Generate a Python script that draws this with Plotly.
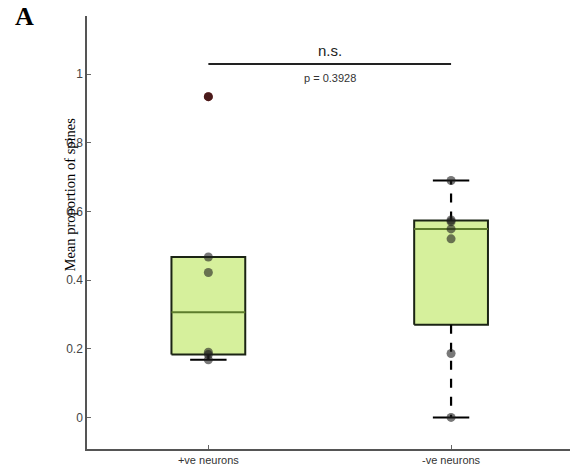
import numpy as np
import plotly.graph_objects as go

categories = ["+ve neurons", "-ve neurons"]
pos_values = [0.168, 0.183, 0.190, 0.422, 0.467, 0.934]
neg_values = [0.0, 0.186, 0.520, 0.549, 0.570, 0.575, 0.690]
series = [pos_values, neg_values]
y_ticks = [0, 0.2, 0.4, 0.6, 0.8, 1]
sig_label = "n.s."
p_label = "p = 0.3928"
sig_height = 1.029

BOX_HALF = 0.152
CAP_HALF = 0.075
FILL = "#d6f09c"
MEDIAN_C = "#5d7d2c"
EDGE = "#1b2414"


def matlab_prctile(v, p):
    v = np.sort(np.asarray(v, float))
    n = len(v)
    r = n * p / 100.0 + 0.5
    if r <= 1:
        return v[0]
    if r >= n:
        return v[-1]
    lo = int(np.floor(r))
    f = r - lo
    return v[lo - 1] + f * (v[lo] - v[lo - 1])


fig = go.Figure()

for i, vals in enumerate(series):
    v = np.asarray(vals, float)
    q1 = matlab_prctile(v, 25)
    med = matlab_prctile(v, 50)
    q3 = matlab_prctile(v, 75)
    iqr = q3 - q1
    inl = v[(v >= q1 - 1.5 * iqr) & (v <= q3 + 1.5 * iqr)]
    outl = v[(v < q1 - 1.5 * iqr) | (v > q3 + 1.5 * iqr)]
    lw, uw = inl.min(), inl.max()
    # box
    fig.add_trace(go.Scatter(
        x=[i - BOX_HALF, i + BOX_HALF, i + BOX_HALF, i - BOX_HALF, i - BOX_HALF],
        y=[q1, q1, q3, q3, q1], mode="lines", fill="toself", fillcolor=FILL,
        line=dict(color=EDGE, width=2), hoverinfo="skip", showlegend=False))
    # median
    fig.add_trace(go.Scatter(x=[i - BOX_HALF, i + BOX_HALF], y=[med, med], mode="lines",
                             line=dict(color=MEDIAN_C, width=2), showlegend=False, hoverinfo="skip"))
    # whiskers
    for a, b in ((q3, uw), (q1, lw)):
        if abs(a - b) > 1e-9:
            fig.add_trace(go.Scatter(x=[i, i], y=[a, b], mode="lines",
                                     line=dict(color="black", width=2.2, dash="dash"),
                                     showlegend=False, hoverinfo="skip"))
            fig.add_trace(go.Scatter(x=[i - CAP_HALF, i + CAP_HALF], y=[b, b], mode="lines",
                                     line=dict(color="black", width=2),
                                     showlegend=False, hoverinfo="skip"))
    # outliers
    if len(outl):
        fig.add_trace(go.Scatter(x=[i] * len(outl), y=outl, mode="markers",
                                 marker=dict(symbol="circle", size=9, color="#8a1414"),
                                 showlegend=False, hoverinfo="skip"))
    # data points
    fig.add_trace(go.Scatter(x=[i] * len(v), y=v, mode="markers",
                             marker=dict(size=9, color="rgba(30,30,30,0.6)", line=dict(width=0)),
                             showlegend=False))

# significance bar
fig.add_trace(go.Scatter(x=[0, 1], y=[sig_height, sig_height], mode="lines",
                         line=dict(color="#222", width=2), showlegend=False, hoverinfo="skip"))
fig.add_annotation(x=0.5, y=sig_height, text=sig_label, showarrow=False, yanchor="bottom",
                   yshift=3, font=dict(family="Liberation Sans, Arial", size=15, color="#222"))
fig.add_annotation(x=0.5, y=sig_height, text=p_label, showarrow=False, yanchor="top",
                   yshift=-6, font=dict(family="Liberation Sans, Arial", size=11, color="#333"))

# panel letter
fig.add_annotation(x=-0.13, y=1.0, xref="paper", yref="paper", text="<b>A</b>", showarrow=False,
                   xanchor="center", yanchor="middle",
                   font=dict(family="Liberation Serif, Times New Roman", size=26, color="black"))

# y-axis title
fig.add_annotation(x=-0.035, y=0.588, xref="paper", yref="paper", text="Mean proportion of spines",
                   textangle=-90, showarrow=False, xanchor="center", yanchor="middle",
                   font=dict(family="Liberation Serif, Times New Roman", size=14.5, color="black"))

fig.update_layout(
    width=570, height=475,
    margin=dict(l=87, r=0, t=16, b=26),
    paper_bgcolor="white", plot_bgcolor="white",
    showlegend=False,
    xaxis=dict(range=[-0.5, 1.49], tickvals=[0, 1], ticktext=categories,
               showgrid=False, zeroline=False, showline=True, linecolor="#555", linewidth=1.5,
               ticks="inside", ticklen=4, tickcolor="#666",
               tickfont=dict(family="Liberation Sans, Arial", size=11, color="#333")),
    yaxis=dict(range=[-0.092, 1.169], tickvals=y_ticks,
               showgrid=False, zeroline=False, showline=True, linecolor="#555", linewidth=1.5,
               ticks="inside", ticklen=4, tickcolor="#666",
               tickfont=dict(family="Liberation Sans, Arial", size=12, color="#444")),
)

fig.write_html("out.html")
